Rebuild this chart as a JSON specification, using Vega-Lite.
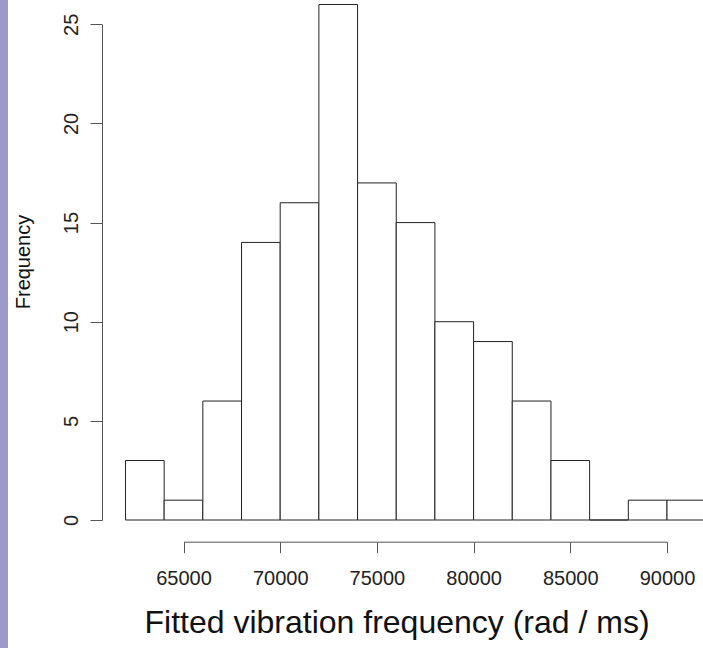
{
  "$schema": "https://vega.github.io/schema/vega-lite/v6.json",
  "width": 695,
  "height": 648,
  "autosize": {"type": "none"},
  "padding": {"left": 8, "top": 0, "right": 0, "bottom": 0},
  "background": "#9a9acb",
  "config": {
    "view": {"stroke": null, "fill": "white"},
    "font": "Liberation Sans"
  },
  "data": {
    "values": [
      {"bin_start": 62000, "bin_end": 64000, "count": 3},
      {"bin_start": 64000, "bin_end": 66000, "count": 1},
      {"bin_start": 66000, "bin_end": 68000, "count": 6},
      {"bin_start": 68000, "bin_end": 70000, "count": 14},
      {"bin_start": 70000, "bin_end": 72000, "count": 16},
      {"bin_start": 72000, "bin_end": 74000, "count": 26},
      {"bin_start": 74000, "bin_end": 76000, "count": 17},
      {"bin_start": 76000, "bin_end": 78000, "count": 15},
      {"bin_start": 78000, "bin_end": 80000, "count": 10},
      {"bin_start": 80000, "bin_end": 82000, "count": 9},
      {"bin_start": 82000, "bin_end": 84000, "count": 6},
      {"bin_start": 84000, "bin_end": 86000, "count": 3},
      {"bin_start": 86000, "bin_end": 88000, "count": 0},
      {"bin_start": 88000, "bin_end": 90000, "count": 1},
      {"bin_start": 90000, "bin_end": 92000, "count": 1}
    ]
  },
  "mark": {"type": "rect", "fill": "white", "stroke": "#222222", "strokeWidth": 1},
  "encoding": {
    "x": {
      "field": "bin_start",
      "type": "quantitative",
      "scale": {"domain": [65000, 90000], "range": [175.5, 659], "nice": false, "zero": false},
      "axis": {
        "values": [65000, 70000, 75000, 80000, 85000, 90000],
        "format": "d",
        "grid": false,
        "offset": -106.3,
        "domainColor": "#555555",
        "tickColor": "#555555",
        "tickSize": 11,
        "labelFontSize": 20,
        "labelColor": "#222222",
        "labelBaseline": "alphabetic",
        "labelPadding": 32,
        "labelFlush": false,
        "labelOverlap": false,
        "title": "Fitted vibration frequency (rad / ms)",
        "titleFontSize": 32,
        "titleFontWeight": "normal",
        "titleColor": "#111111",
        "titleX": 388.5,
        "titleY": 90.3,
        "titleAlign": "center",
        "titleBaseline": "alphabetic"
      }
    },
    "x2": {"field": "bin_end"},
    "y": {
      "field": "count",
      "type": "quantitative",
      "scale": {"domain": [0, 25], "range": [520, 24.3], "nice": false, "zero": false},
      "axis": {
        "values": [0, 5, 10, 15, 20, 25],
        "grid": false,
        "offset": -94,
        "domainColor": "#555555",
        "tickColor": "#555555",
        "tickSize": 12,
        "labelFontSize": 20,
        "labelColor": "#222222",
        "labelAngle": -90,
        "labelAlign": "center",
        "labelBaseline": "alphabetic",
        "labelPadding": 13,
        "labelFlush": false,
        "labelOverlap": false,
        "title": "Frequency",
        "titleFontSize": 20,
        "titleFontWeight": "normal",
        "titleColor": "#111111",
        "titleAngle": -90,
        "titleX": -73,
        "titleY": 261.5,
        "titleAlign": "center",
        "titleBaseline": "alphabetic"
      }
    },
    "y2": {"datum": 0}
  }
}
